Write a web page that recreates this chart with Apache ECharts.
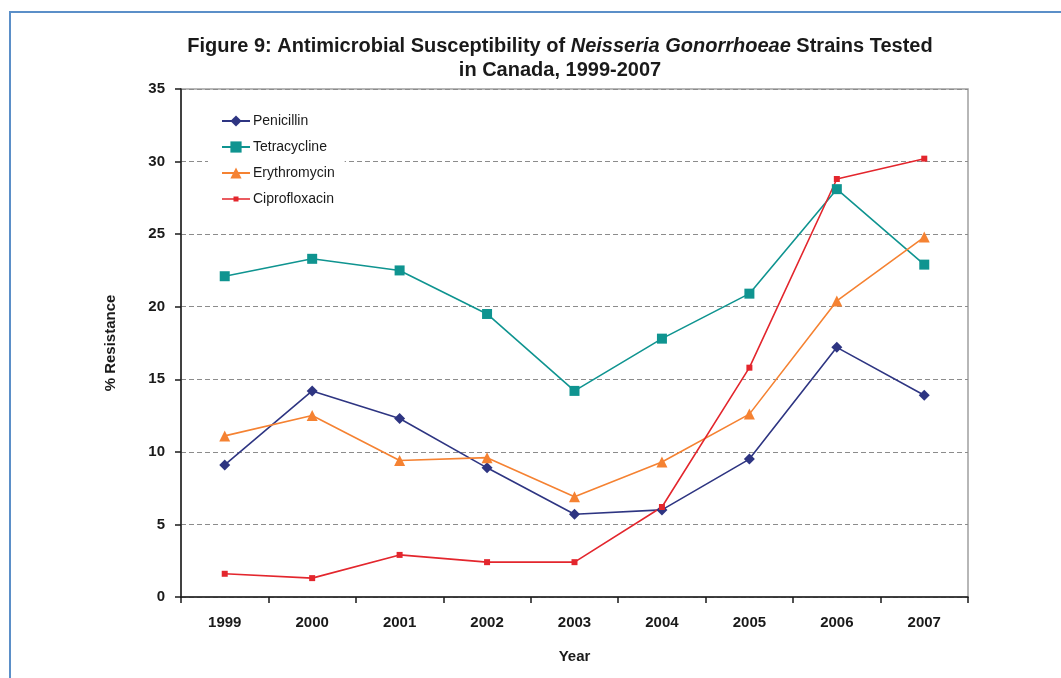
<!DOCTYPE html>
<html>
<head>
<meta charset="utf-8">
<script src="https://cdn.jsdelivr.net/npm/echarts@6/dist/echarts.min.js"></script>
<style>
  html, body { margin: 0; padding: 0; background: #fff; }
  #chart { width: 1061px; height: 678px; }
</style>
</head>
<body>
<div id="chart"></div>
<script>
// Surveillance years and resistance percentages by antimicrobial
const years = ['1999', '2000', '2001', '2002', '2003', '2004', '2005', '2006', '2007'];
const penicillin   = [9.1, 14.2, 12.3, 8.9, 5.7, 6.0, 9.5, 17.2, 13.9];
const tetracycline = [22.1, 23.3, 22.5, 19.5, 14.2, 17.8, 20.9, 28.1, 22.9];
const erythromycin = [11.1, 12.5, 9.4, 9.6, 6.9, 9.3, 12.6, 20.4, 24.8];
const ciprofloxacin = [1.6, 1.3, 2.9, 2.4, 2.4, 6.2, 15.8, 28.8, 30.2];
const yTicks = [0, 5, 10, 15, 20, 25, 30, 35];

const chart = echarts.init(document.getElementById('chart'), null, { renderer: 'canvas' });
const FONT = 'Liberation Sans, Arial, sans-serif';

function lineSeries(name, data, color, symbol, size) {
  return {
    name, type: 'line', data,
    symbol, symbolSize: size,
    lineStyle: { color, width: 1.6 },
    itemStyle: { color },
    emphasis: { disabled: true },
    animation: false
  };
}

chart.setOption({
  backgroundColor: '#fff',
  textStyle: { fontFamily: FONT },
  graphic: [
    // frame lines along the top and left edges
    { type: 'rect', shape: { x: 9, y: 11, width: 1060, height: 2 }, style: { fill: '#5b8fc8' } },
    { type: 'rect', shape: { x: 9, y: 11, width: 2, height: 680 }, style: { fill: '#5b8fc8' } },
    {
      type: 'text', x: 560, y: 34,
      style: {
        text: '{b|Figure 9: Antimicrobial Susceptibility of }{i|Neisseria Gonorrhoeae}{b| Strains Tested}\n{b|in Canada, 1999-2007}',
        textAlign: 'center',
        fill: '#1a1a1a',
        rich: {
          b: { fontFamily: FONT, fontWeight: 'bold', fontSize: 20, lineHeight: 24, fill: '#1a1a1a' },
          i: { fontFamily: FONT, fontWeight: 'bold', fontStyle: 'italic', fontSize: 20, lineHeight: 24, fill: '#1a1a1a' }
        }
      }
    }
  ],
  legend: {
    orient: 'vertical',
    left: 208, top: 107,
    padding: [7, 10, 7, 13],
    backgroundColor: '#fff',
    itemWidth: 28, itemHeight: 14, itemGap: 12,
    textStyle: { fontFamily: FONT, fontSize: 14, color: '#1a1a1a', padding: [0, 0, 0, -2] },
    data: [
      'Penicillin', 'Tetracycline', 'Erythromycin',
      // key with a line and a smaller square marker for ciprofloxacin
      { name: 'Ciprofloxacin', icon: 'path://M0,5.7h28v1.6h-28zM11.5,4h5v5h-5z' }
    ]
  },
  grid: {
    left: 181, right: 93, top: 89, bottom: 81,
    show: true, borderColor: '#a0a0a0', borderWidth: 1.5, backgroundColor: 'transparent'
  },
  xAxis: {
    type: 'category', data: years, boundaryGap: true,
    name: 'Year', nameLocation: 'middle', nameGap: 52,
    nameTextStyle: { fontFamily: FONT, fontWeight: 'bold', fontSize: 15, color: '#1a1a1a' },
    axisLine: { lineStyle: { color: '#1a1a1a', width: 1.5 } },
    axisTick: { show: true, length: 6, lineStyle: { color: '#1a1a1a', width: 1.5 } },
    axisLabel: { fontFamily: FONT, fontWeight: 'bold', fontSize: 15, color: '#1a1a1a', margin: 18 }
  },
  yAxis: {
    type: 'value', min: yTicks[0], max: yTicks[yTicks.length - 1], interval: 5,
    name: '% Resistance', nameLocation: 'middle', nameGap: 63,
    nameTextStyle: { fontFamily: FONT, fontWeight: 'bold', fontSize: 15, color: '#1a1a1a' },
    axisLine: { show: true, lineStyle: { color: '#1a1a1a', width: 1.5 } },
    axisTick: { show: true, length: 6, lineStyle: { color: '#1a1a1a', width: 1.5 } },
    axisLabel: { fontFamily: FONT, fontWeight: 'bold', fontSize: 15, color: '#1a1a1a', margin: 16 },
    splitLine: { show: true, lineStyle: { color: '#8c8c8c', type: [5, 3], width: 1.2 } }
  },
  series: [
    lineSeries('Penicillin', penicillin, '#2e3582', 'diamond', 11),
    lineSeries('Tetracycline', tetracycline, '#0f9490', 'rect', 10),
    lineSeries('Erythromycin', erythromycin, '#f58232', 'triangle', 11),
    lineSeries('Ciprofloxacin', ciprofloxacin, '#e3262d', 'rect', 6)
  ]
});
</script>
</body>
</html>
